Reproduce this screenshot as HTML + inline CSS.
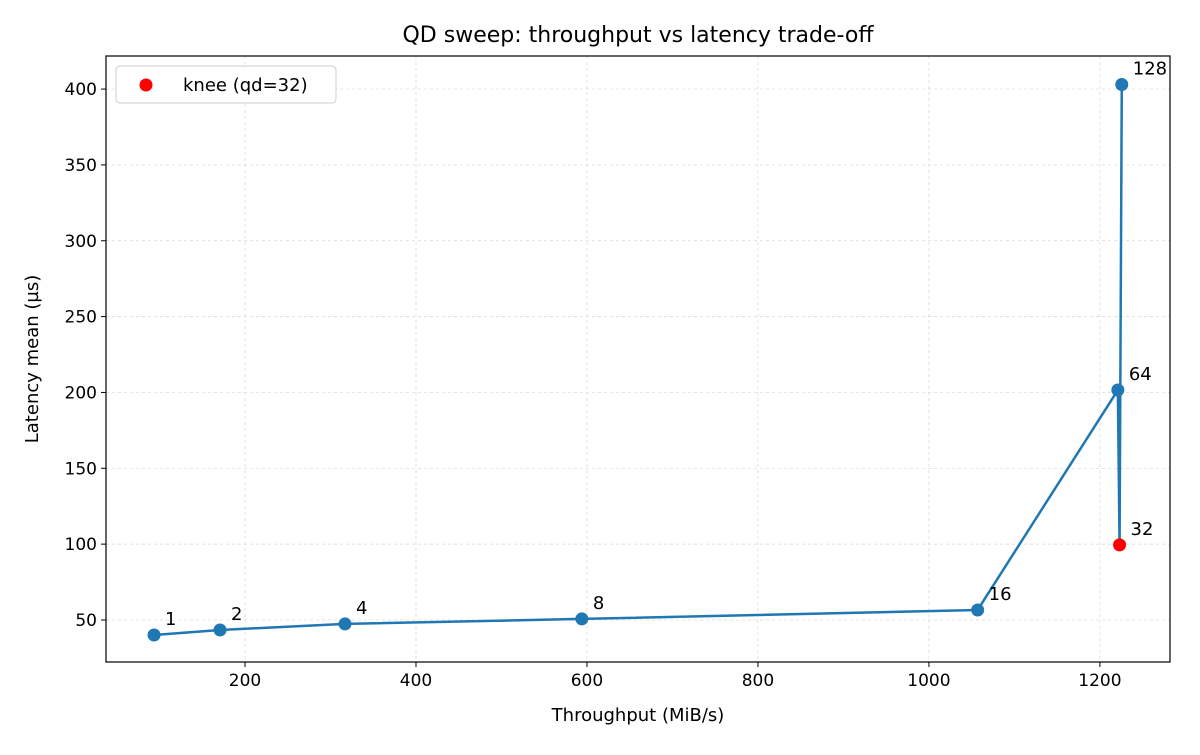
<!DOCTYPE html>
<html><head><meta charset="utf-8">
<style>
body{margin:0;background:#fff;font-family:"Liberation Sans","DejaVu Sans",sans-serif;}
svg text{font-family:"DejaVu Sans","Liberation Sans",sans-serif;}
</style></head>
<body>
<svg id="chart" width="1200" height="750" xmlns="http://www.w3.org/2000/svg">
<rect width="1200" height="750" fill="#fff"/>
<g id="grid"></g>
<g id="axes"></g>
<g id="marks"></g>
<text x="638" y="42" text-anchor="middle" font-size="22">QD sweep: throughput vs latency trade-off</text>
<text x="638" y="721" text-anchor="middle" font-size="18">Throughput (MiB/s)</text>
<text transform="translate(38,359) rotate(-90)" text-anchor="middle" font-size="18">Latency mean (µs)</text>
<g>
<rect x="116" y="66" width="220" height="37" rx="4" fill="#fff" stroke="#ccc"/>
<circle cx="146" cy="85" r="6.5" fill="#ff0000"/>
<text x="183" y="91" font-size="18">knee (qd=32)</text>
</g>
</svg>
<script>
const qds=[1,2,4,8,16,32,64,128];
const throughput=[93.6,170.8,317,594,1057,1223,1221,1225.6];
const latency=[40.1,43.4,47.4,50.7,56.6,99.5,201.6,403];
const xTicks=[200,400,600,800,1000,1200];
const yTicks=[50,100,150,200,250,300,350,400];
const kneeQd=32;
const L=106,R=1170,T=56,B=662;
const xmin=37.4,xmax=1282,ymin=22.3,ymax=421.8;
const X=v=>L+(v-xmin)/(xmax-xmin)*(R-L);
const Y=v=>B-(v-ymin)/(ymax-ymin)*(B-T);
const NS="http://www.w3.org/2000/svg";
function mk(t,a,p){const e=document.createElementNS(NS,t);for(const k in a)e.setAttribute(k,a[k]);p.appendChild(e);return e;}
const grid=document.getElementById('grid'),axes=document.getElementById('axes'),marks=document.getElementById('marks');
xTicks.forEach(t=>{const x=X(t);
const g=mk('line',{x1:x,x2:x,y1:T,y2:B,stroke:'#d6d6d6','stroke-width':0.7,'stroke-dasharray':'3,3'},grid);


mk('line',{x1:x,x2:x,y1:B,y2:B+5,stroke:'#000'},axes);
const tx=mk('text',{x:x,y:B+24,'text-anchor':'middle','font-size':17},axes);tx.textContent=t;

});
yTicks.forEach(t=>{const y=Y(t);
const g=mk('line',{x1:L,x2:R,y1:y,y2:y,stroke:'#d6d6d6','stroke-width':0.7,'stroke-dasharray':'3,3'},grid);


mk('line',{x1:L-5,x2:L,y1:y,y2:y,stroke:'#000'},axes);
const tx=mk('text',{x:L-9,y:y+6,'text-anchor':'end','font-size':17},axes);tx.textContent=t;

});
const frame=mk('rect',{x:L,y:T,width:R-L,height:B-T,fill:'none',stroke:'#000','stroke-width':1.2},axes);


const idx=qds.map((_,i)=>i).sort((a,b)=>throughput[a]-throughput[b]);
const line=mk('polyline',{points:idx.map(i=>X(throughput[i])+','+Y(latency[i])).join(' '),fill:'none',stroke:'#1f77b4','stroke-width':2.5,'stroke-linejoin':'round'},marks);


qds.forEach((q,i)=>{const cx=X(throughput[i]),cy=Y(latency[i]);
const c=mk('circle',{cx:cx,cy:cy,r:6.5,fill:q===kneeQd?'#ff0000':'#1f77b4'},marks);


const tx=mk('text',{x:cx+11,y:cy-10,'font-size':18},marks);tx.textContent=q;

});
</script>
</body></html>
